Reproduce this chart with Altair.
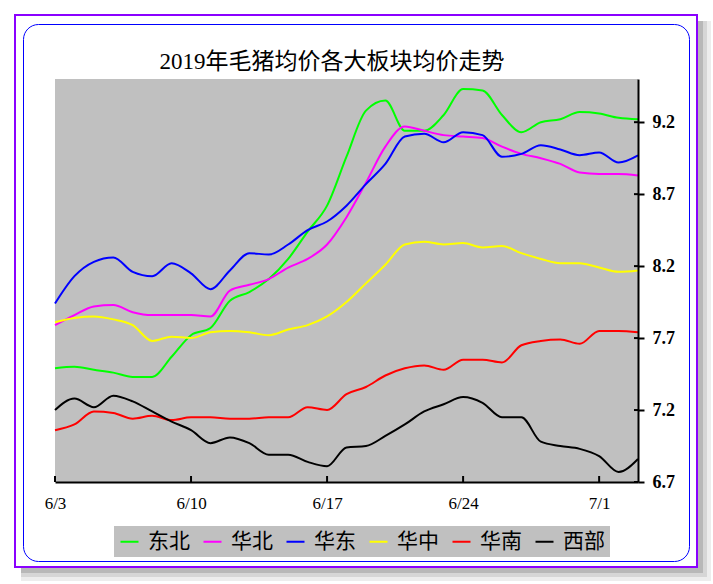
import altair as alt
import pandas as pd

title_text = "2019年毛猪均价各大板块均价走势"

dates = pd.date_range("2019-06-03", "2019-07-03", freq="D").strftime("%Y-%m-%d").tolist()

regions = ["东北", "华北", "华东", "华中", "华南", "西部"]
colors = ["#00FF00", "#FF00FF", "#0000FF", "#FFFF00", "#FF0000", "#000000"]

dongbei = [7.49, 7.50, 7.48, 7.46, 7.43, 7.43, 7.57, 7.72, 7.77, 7.96, 8.02, 8.11, 8.25, 8.44, 8.62, 8.96,
           9.28, 9.35, 9.14, 9.14, 9.25, 9.43, 9.42, 9.25, 9.13, 9.20, 9.22, 9.27, 9.26, 9.23, 9.22]
huabei = [7.79, 7.86, 7.92, 7.93, 7.88, 7.86, 7.86, 7.86, 7.85, 8.03, 8.07, 8.11, 8.19, 8.25, 8.35, 8.54,
          8.78, 9.03, 9.17, 9.14, 9.11, 9.10, 9.09, 9.03, 8.98, 8.95, 8.91, 8.85, 8.84, 8.84, 8.83]
huadong = [7.94, 8.13, 8.23, 8.26, 8.16, 8.13, 8.22, 8.15, 8.04, 8.17, 8.29, 8.28, 8.35, 8.45, 8.51, 8.62,
           8.77, 8.91, 9.10, 9.12, 9.06, 9.13, 9.11, 8.96, 8.98, 9.04, 9.01, 8.97, 8.99, 8.92, 8.97]
huazhong = [7.81, 7.84, 7.85, 7.83, 7.79, 7.68, 7.71, 7.70, 7.74, 7.75, 7.74, 7.72, 7.76, 7.79, 7.85, 7.95,
            8.08, 8.21, 8.35, 8.37, 8.35, 8.36, 8.33, 8.34, 8.29, 8.25, 8.22, 8.22, 8.19, 8.16, 8.17]
huanan = [7.06, 7.10, 7.19, 7.18, 7.14, 7.16, 7.13, 7.15, 7.15, 7.14, 7.14, 7.15, 7.15, 7.22, 7.20, 7.31,
          7.36, 7.44, 7.49, 7.51, 7.48, 7.55, 7.55, 7.53, 7.65, 7.68, 7.69, 7.66, 7.75, 7.75, 7.74]
xibu = [7.20, 7.28, 7.22, 7.30, 7.26, 7.19, 7.12, 7.06, 6.97, 7.01, 6.97, 6.89, 6.89, 6.84, 6.81, 6.94,
        6.95, 7.02, 7.10, 7.19, 7.24, 7.29, 7.25, 7.15, 7.15, 6.98, 6.95, 6.93, 6.88, 6.77, 6.86]

series = [dongbei, huabei, huadong, huazhong, huanan, xibu]

y_ticks = [6.7, 7.2, 7.7, 8.2, 8.7, 9.2]
x_ticks = ["2019-06-03", "2019-06-10", "2019-06-17", "2019-06-24", "2019-07-01"]

rows = []
for name, vals in zip(regions, series):
    for d, v in zip(dates, vals):
        rows.append({"date": d, "region": name, "value": v})
df = pd.DataFrame(rows)

W, H = 583, 403
SERIF = "'Liberation Serif', 'DejaVu Serif'"
CJK = "'Noto Sans CJK SC'"

x_scale = alt.Scale(
    type="utc",
    domain=[alt.DateTime(year=2019, month=6, date=3, utc=True),
            alt.DateTime(year=2019, month=7, date=3, utc=True)],
)
y_scale = alt.Scale(domain=[6.7, 9.5], nice=False, zero=False)

x_axis = alt.Axis(
    title=None, values=[alt.DateTime(year=2019, month=int(t[5:7]), date=int(t[8:10]), utc=True) for t in x_ticks],
    format="%-m/%-d", ticks=False, grid=False, domainColor="black", domainWidth=2,
    labelFont=SERIF, labelFontSize=17, labelColor="black", labelPadding=13, labelFlush=False,
    labelAlign="center", zindex=1,
)
y_axis = alt.Axis(
    title=None, orient="right", values=y_ticks, format=".1f", grid=False,
    domainColor="black", domainWidth=2, tickColor="black", tickWidth=2, tickSize=6,
    labelFont=SERIF, labelFontSize=18, labelFontWeight="bold", labelColor="black",
    labelPadding=8, labelFlush=False, zindex=1,
)

one = alt.Data(values=[{"k": 1}])
deco = alt.Chart(one)

shadow1 = deco.mark_rect(color="#ededed").encode(
    x=alt.value(-34), x2=alt.value(656), y=alt.value(-58), y2=alt.value(502))
shadow2 = deco.mark_rect(color="#d6d6d6").encode(
    x=alt.value(-34), x2=alt.value(652), y=alt.value(-58), y2=alt.value(498))
shadow3 = deco.mark_rect(color="#b8b8b8").encode(
    x=alt.value(-34), x2=alt.value(648), y=alt.value(-58), y2=alt.value(494))
card = deco.mark_rect(fill="white", stroke="#8A00FF", strokeWidth=2).encode(
    x=alt.value(-40), x2=alt.value(642), y=alt.value(-64), y2=alt.value(488))
inner = deco.mark_rect(fill="white", fillOpacity=0, stroke="#0000FF", strokeWidth=1, cornerRadius=15).encode(
    x=alt.value(-31.5), x2=alt.value(634.5), y=alt.value(-54.5), y2=alt.value(482.5))
plotbg = deco.mark_rect(color="#C0C0C0").encode(
    x=alt.value(0), x2=alt.value(W), y=alt.value(0), y2=alt.value(H))

lines = alt.Chart(df).mark_line(strokeWidth=2, interpolate="monotone").encode(
    x=alt.X("date:T", scale=x_scale, axis=x_axis),
    y=alt.Y("value:Q", scale=y_scale, axis=y_axis),
    color=alt.Color(
        "region:N",
        scale=alt.Scale(domain=regions, range=colors),
        legend=alt.Legend(
            title=None, orient="none", legendX=59, legendY=447, direction="horizontal",
            fillColor="#C0C0C0", padding=5, symbolType="stroke", symbolSize=324,
            symbolStrokeWidth=2, labelFont=CJK, labelFontSize=21, labelColor="black",
            labelOffset=8, columnPadding=9,
        ),
    ),
    detail="region:N",
)

xtick_df = pd.DataFrame({"date": x_ticks})
xticks = alt.Chart(xtick_df).mark_rule(color="black", strokeWidth=2).encode(
    x=alt.X("date:T", scale=x_scale, axis=x_axis), y=alt.value(H - 6), y2=alt.value(H))

ytick_df = pd.DataFrame({"value": y_ticks})
yticks = alt.Chart(ytick_df).mark_rule(color="black", strokeWidth=2).encode(
    y=alt.Y("value:Q", scale=y_scale, axis=y_axis), x=alt.value(W - 4), x2=alt.value(W))

title_df = pd.DataFrame({"t": [title_text]})
title = alt.Chart(title_df).mark_text(
    font=SERIF + ", " + CJK, fontSize=23, color="black", align="center", baseline="alphabetic",
).encode(text="t:N", x=alt.value(277), y=alt.value(-10))

chart = alt.layer(
    shadow1, shadow2, shadow3, card, inner, plotbg, lines, xticks, yticks, title
).properties(
    width=W, height=H,
    padding={"left": 55, "top": 79, "right": 75, "bottom": 102},
    autosize=alt.AutoSizeParams(type="none"),
    background="white",
).configure_view(strokeWidth=0)

chart.save("out.html", embed_options={"renderer": "svg", "actions": False})
